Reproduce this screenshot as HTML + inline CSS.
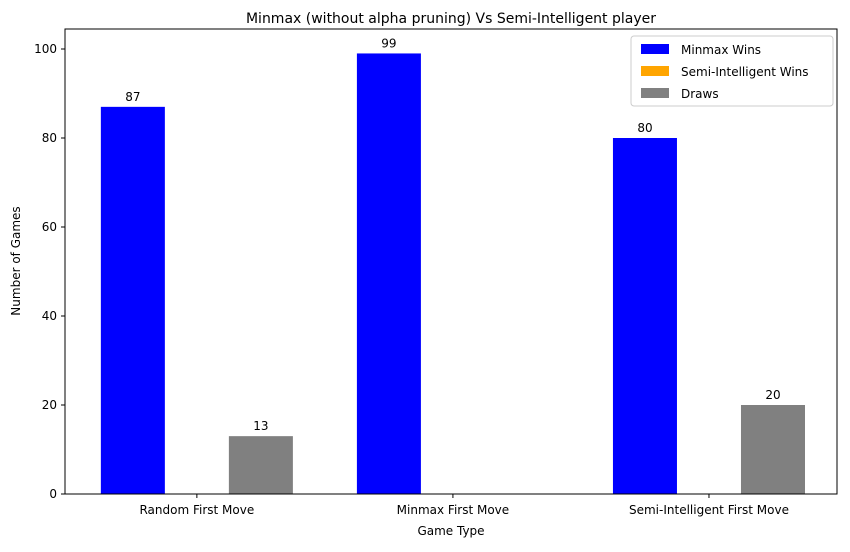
<!DOCTYPE html>
<html><head><meta charset="utf-8"><style>
body{margin:0;background:#fff;}
text{font-family:"DejaVu Sans","Liberation Sans",sans-serif;fill:#000;}
</style></head><body>
<svg id="chart" width="850" height="547" xmlns="http://www.w3.org/2000/svg">
<rect width="850" height="547" fill="#fff"/>
<text x="451" y="23" font-size="14" text-anchor="middle">Minmax (without alpha pruning) Vs Semi-Intelligent player</text>
<g id="bars"></g>
<g id="axes"></g>
<text x="451" y="535" font-size="12" text-anchor="middle">Game Type</text>
<text x="20" y="261" font-size="12" text-anchor="middle" transform="rotate(-90 20 261)">Number of Games</text>
<g>
<rect x="631" y="36" width="202" height="70" fill="#fff" stroke="#ccc" rx="3"/>
<rect x="641" y="44" width="28" height="10" fill="blue"/>
<text x="681" y="54" font-size="12">Minmax Wins</text>
<rect x="641" y="66" width="28" height="10" fill="orange"/>
<text x="681" y="76" font-size="12">Semi-Intelligent Wins</text>
<rect x="641" y="88" width="28" height="10" fill="gray"/>
<text x="681" y="98" font-size="12">Draws</text>
</g>
</svg>
<script>
const categories=["Random First Move","Minmax First Move","Semi-Intelligent First Move"];
const minmaxWins=[87,99,80];
const semiWins=[0,0,0];
const draws=[13,0,20];
const yTicks=[0,20,40,60,80,100];
const seriesNames=["minmax-wins","semi-wins","draws"];
const seriesColors=["blue","orange","gray"];
const L=65,R=837,T=29,B=494;
const UNIT=(R-L)/3.015;
const xs=i=>L+(i+0.515)*UNIT;
const ys=v=>B-v*4.45;
const NS="http://www.w3.org/2000/svg";
function mk(tag,at,p){const e=document.createElementNS(NS,tag);for(const k in at)e.setAttribute(k,at[k]);p.appendChild(e);return e;}
const bars=document.getElementById('bars'),axes=document.getElementById('axes');
const bw=0.25*UNIT;
[minmaxWins,semiWins,draws].forEach((s,si)=>{
 s.forEach((v,i)=>{
  const cx=xs(i)+(si-1)*bw;
  const r=mk('rect',{x:cx-bw/2,y:ys(v),width:bw,height:B-ys(v),fill:seriesColors[si]},bars);
  
  
  if(v>0){const t=mk('text',{x:cx,y:ys(v)-6,'font-size':12,'text-anchor':'middle'},bars);t.textContent=v;
   
   }
 });
});
mk('rect',{x:L,y:T,width:R-L,height:B-T,fill:'none',stroke:'#000','stroke-width':1},axes);
yTicks.forEach(v=>{
 mk('line',{x1:L-4,x2:L,y1:ys(v),y2:ys(v),stroke:'#000'},axes);
 const t=mk('text',{x:L-8,y:ys(v)+4,'font-size':12,'text-anchor':'end'},axes);t.textContent=v;
 
 
});
categories.forEach((c,i)=>{
 mk('line',{x1:xs(i),x2:xs(i),y1:B,y2:B+4,stroke:'#000'},axes);
 const t=mk('text',{x:xs(i),y:B+20,'font-size':12,'text-anchor':'middle'},axes);t.textContent=c;
 
 
});
</script>
</body></html>
